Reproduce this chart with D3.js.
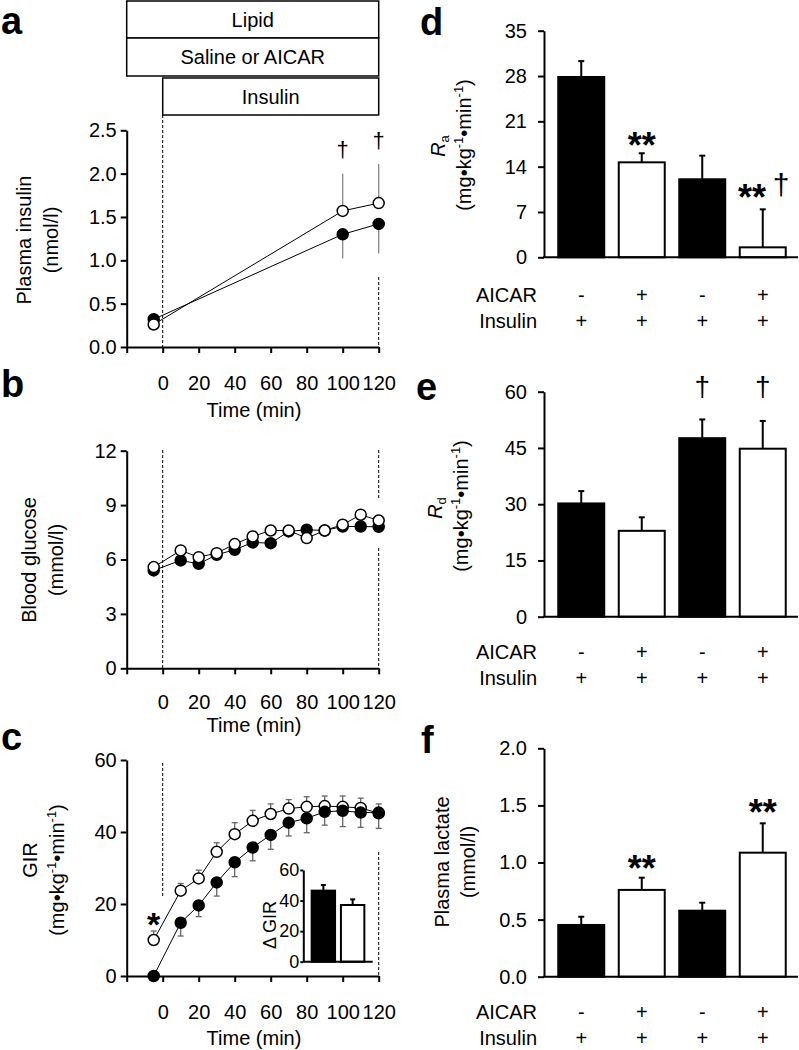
<!DOCTYPE html>
<html><head><meta charset="utf-8">
<script src="https://cdnjs.cloudflare.com/ajax/libs/d3/7.8.5/d3.min.js"></script>
<style>
body{margin:0;background:#fff;}
svg{display:block;font-family:"Liberation Sans",Arial,sans-serif;}
</style></head>
<body>
<svg id="fig" width="799" height="1050"></svg>
<script>
// ---------- DATA ----------
const timeA = [-5, 100, 120];
const insulinSaline = [0.32, 1.30, 1.42];
const insulinSalineSem = [0, 0.28, 0.34];
const insulinAicar = [0.26, 1.57, 1.66];
const insulinAicarSem = [0, 0.43, 0.45];
const insulinDaggers = [100, 120];

const timeBC = [-5, 10, 20, 30, 40, 50, 60, 70, 80, 90, 100, 110, 120];
const glucoseSaline = [5.4, 5.95, 5.76, 6.26, 6.54, 6.94, 6.9, 7.55, 7.64, 7.6, 7.82, 7.82, 7.8];
const glucoseAicar = [5.58, 6.5, 6.13, 6.35, 6.85, 7.27, 7.6, 7.6, 7.18, 7.6, 7.92, 8.47, 8.15];

const girSaline = [0, 14.8, 19.6, 26, 31.6, 35.7, 39.2, 42.6, 43.8, 45.6, 45.9, 45.4, 45.4];
const girSalineSem = [0, 3.7, 3.1, 3.8, 4.0, 3.7, 4.0, 3.7, 4.0, 3.7, 4.4, 4.1, 4.4];
const girAicar = [10.0, 23.7, 27.1, 34.5, 39.4, 43.1, 45, 46.5, 47, 47.2, 47, 46.7, 45.2];
const girAicarSem = [2.5, 2.0, 2.3, 2.5, 3.2, 2.9, 2.8, 2.5, 2.8, 2.8, 3.0, 2.7, 2.6];

const deltaGirGroups = ["Saline", "AICAR"];
const deltaGir = [46.5, 37.1];
const deltaGirSem = [3.7, 3.7];

const barGroups = ["g1", "g2", "g3", "g4"];
const barFills = ["#000", "#fff", "#000", "#fff"];
const aicarRow = ["-", "+", "-", "+"];
const insulinRow = ["+", "+", "+", "+"];
const ra = [27.85, 14.67, 12.05, 1.54];
const raSem = [2.45, 1.4, 3.65, 5.87];
const rd = [30.2, 22.9, 47.6, 44.8];
const rdSem = [3.3, 3.6, 5.0, 7.4];
const lactate = [0.453, 0.76, 0.578, 1.086];
const lactateSem = [0.072, 0.107, 0.07, 0.257];

const timeTicks = [-20, 0, 20, 40, 60, 80, 100, 120];

// ---------- HELPERS ----------
const svg = d3.select("#fig");
const FS = 20;

function styleAxis(g, fs) {
  g.attr("font-size", fs || FS);
  g.select(".domain").attr("stroke", "#000").attr("stroke-width", 2);
  g.selectAll(".tick line").attr("stroke", "#000").attr("stroke-width", 2);
  g.selectAll(".tick text").attr("fill", "#000").attr("font-size", fs || FS)
    .attr("font-family", "Liberation Sans, Arial, sans-serif");
}

function panelLabel(t, x, y) {
  svg.append("text").attr("x", x).attr("y", y).attr("font-size", 38)
    .attr("font-weight", "bold").text(t);
}

function rotLabel(x, y, build, fs) {
  const t = svg.append("text").attr("transform", `translate(${x},${y}) rotate(-90)`)
    .attr("text-anchor", "middle").attr("font-size", fs || FS);
  build(t);
  return t;
}

function unitsLabel(t) {
  t.append("tspan").text("(mg•kg");
  t.append("tspan").attr("font-size", 13).attr("dy", -8).text("-1");
  t.append("tspan").attr("dy", 8).text("•min");
  t.append("tspan").attr("font-size", 13).attr("dy", -8).text("-1");
  t.append("tspan").attr("dy", 8).text(")");
}

function dashed(x, y1, y2) {
  svg.append("line").attr("x1", x).attr("x2", x).attr("y1", y1).attr("y2", y2)
    .attr("stroke", "#000").attr("stroke-width", 1).attr("stroke-dasharray", "3,2");
}

function dagger(x, cy, fs) {
  svg.append("text").attr("x", x).attr("y", cy + fs * 0.29).attr("text-anchor", "middle")
    .attr("font-size", fs).attr("fill", "#000").text("†");
}
function stars(x, cy, s, fs) {
  svg.append("text").attr("x", x).attr("y", cy + fs * 0.57).attr("text-anchor", "middle")
    .attr("font-size", fs).attr("font-weight", "bold").text(s);
}

function timeXAxis(y0, x, padOffset, titleOffset) {
  const g = svg.append("g").attr("transform", `translate(0,${y0})`)
    .call(d3.axisBottom(x).tickValues(timeTicks).tickSize(6).tickSizeOuter(0).tickPadding(padOffset)
      .tickFormat(d => d < 0 ? "" : d));
  styleAxis(g);
  svg.append("text").attr("x", 254).attr("y", y0 + titleOffset).attr("text-anchor", "middle")
    .attr("font-size", FS).text("Time (min)");
}

function lineSeries(x, y, times, vals, sems, dir, errColor, cap) {
  const pts = times.map((t, i) => ({ t, v: vals[i], s: sems ? sems[i] : 0 }));
  const eb = svg.append("g");
  pts.filter(p => p.s > 0).forEach(p => {
    const ye = y(p.v + dir * p.s);
    eb.append("line").attr("x1", x(p.t)).attr("x2", x(p.t)).attr("y1", y(p.v)).attr("y2", ye)
      .attr("stroke", errColor).attr("stroke-width", 1.3);
    if (cap) eb.append("line").attr("x1", x(p.t) - cap).attr("x2", x(p.t) + cap).attr("y1", ye).attr("y2", ye)
      .attr("stroke", errColor).attr("stroke-width", 1.3);
  });
  svg.append("path").datum(pts).attr("fill", "none").attr("stroke", "#000").attr("stroke-width", 1)
    .attr("d", d3.line().x(p => x(p.t)).y(p => y(p.v)));
  return pts;
}
function dots(x, y, pts, filled, r) {
  svg.append("g").selectAll("circle").data(pts).join("circle")
    .attr("cx", p => x(p.t)).attr("cy", p => y(p.v)).attr("r", r)
    .attr("fill", filled ? "#000" : "#fff").attr("stroke", "#000").attr("stroke-width", 1.5);
}

// ---------- PANEL A ----------
const xT = d3.scaleLinear().domain([-20, 120]).range([126.7, 378.7]);
function box(x1, x2, y1, y2, label) {
  svg.append("rect").attr("x", x1).attr("y", y1).attr("width", x2 - x1).attr("height", y2 - y1)
    .attr("fill", "#fff").attr("stroke", "#000").attr("stroke-width", 1.5);
  svg.append("text").attr("x", (x1 + x2) / 2).attr("y", (y1 + y2) / 2 + 7).attr("text-anchor", "middle")
    .attr("font-size", FS).text(label);
}
box(xT(-20), xT(120), 1, 38, "Lipid");
box(xT(-20), xT(120), 38, 76, "Saline or AICAR");
box(xT(0), xT(120), 78, 115, "Insulin");
panelLabel("a", 1, 34);

const yA = d3.scaleLinear().domain([0, 2.5]).range([347, 130.3]);
dashed(xT(0), 115, 347);
dashed(xT(120), 277, 347);
const gyA = svg.append("g").attr("transform", `translate(${xT(-20)},0)`)
  .call(d3.axisLeft(yA).tickValues([0, 0.5, 1, 1.5, 2, 2.5]).tickFormat(d3.format(".1f")).tickSize(6).tickSizeOuter(0).tickPadding(4));
styleAxis(gyA);
timeXAxis(347, xT, 23, 70);
rotLabel(31, 240, t => t.text("Plasma insulin"));
rotLabel(58, 240, t => t.text("(nmol/l)"));
const pAs = lineSeries(xT, yA, timeA, insulinSaline, insulinSalineSem, -1, "#888", 0);
const pAa = lineSeries(xT, yA, timeA, insulinAicar, insulinAicarSem, 1, "#888", 0);
dots(xT, yA, pAs, true, 5.5);
dots(xT, yA, pAa, false, 5.5);
insulinDaggers.forEach((t, i) => dagger(xT(t), i === 0 ? 151 : 142, 22));

// ---------- PANEL B ----------
panelLabel("b", 1, 397);
const yB = d3.scaleLinear().domain([0, 12]).range([668.3, 450.7]);
dashed(xT(0), 450, 668);
dashed(xT(120), 450, 498);
dashed(xT(120), 548, 668);
const gyB = svg.append("g").attr("transform", `translate(${xT(-20)},0)`)
  .call(d3.axisLeft(yB).tickValues([0, 3, 6, 9, 12]).tickSize(6).tickSizeOuter(0).tickPadding(4));
styleAxis(gyB);
timeXAxis(668.3, xT, 21, 64);
rotLabel(36, 560, t => t.text("Blood glucose"));
rotLabel(63, 560, t => t.text("(mmol/l)"));
const pBs = lineSeries(xT, yB, timeBC, glucoseSaline, null, -1, "#888", 0);
const pBa = lineSeries(xT, yB, timeBC, glucoseAicar, null, 1, "#888", 0);
dots(xT, yB, pBs, true, 5.5);
dots(xT, yB, pBa, false, 5.5);

// ---------- PANEL C ----------
panelLabel("c", 1, 750);
const yC = d3.scaleLinear().domain([0, 60]).range([976, 760]);
dashed(xT(0), 763, 896);
dashed(xT(120), 852, 976);
const gyC = svg.append("g").attr("transform", `translate(${xT(-20)},0)`)
  .call(d3.axisLeft(yC).tickValues([0, 20, 40, 60]).tickSize(6).tickSizeOuter(0).tickPadding(4));
styleAxis(gyC);
timeXAxis(976, xT, 23, 69);
rotLabel(37, 860, t => t.text("GIR"));
rotLabel(64, 870, unitsLabel);
const pCa = lineSeries(xT, yC, timeBC, girAicar, girAicarSem, 1, "#666", 3);
const pCs = lineSeries(xT, yC, timeBC, girSaline, girSalineSem, -1, "#666", 3);
dots(xT, yC, pCa, false, 5.5);
dots(xT, yC, pCs, true, 5.5);
stars(xT(-5), 917, "*", 34);

// inset
const xI = d3.scaleBand().domain(deltaGirGroups).range([303.3, 372.7]).paddingInner(0.2).paddingOuter(0.285);
const yI = d3.scaleLinear().domain([0, 60]).range([961.7, 870]);
deltaGirGroups.forEach((g, i) => {
  const cx = xI(g) + xI.bandwidth() / 2;
  svg.append("line").attr("x1", cx).attr("x2", cx).attr("y1", yI(deltaGir[i])).attr("y2", yI(deltaGir[i] + deltaGirSem[i]))
    .attr("stroke", "#000").attr("stroke-width", 2);
  svg.append("line").attr("x1", cx - 2.5).attr("x2", cx + 2.5).attr("y1", yI(deltaGir[i] + deltaGirSem[i])).attr("y2", yI(deltaGir[i] + deltaGirSem[i]))
    .attr("stroke", "#000").attr("stroke-width", 2);
});
svg.append("g").selectAll("rect").data(deltaGir).join("rect")
  .attr("x", (d, i) => xI(deltaGirGroups[i])).attr("width", xI.bandwidth())
  .attr("y", d => yI(d)).attr("height", d => yI(0) - yI(d))
  .attr("fill", (d, i) => i === 0 ? "#000" : "#fff").attr("stroke", "#000").attr("stroke-width", 2);
const gyI = svg.append("g").attr("transform", "translate(303.3,0)")
  .call(d3.axisLeft(yI).tickValues([0, 20, 40, 60]).tickSize(3).tickSizeOuter(0).tickPadding(1));
styleAxis(gyI, 18);
svg.append("line").attr("x1", 303.3).attr("x2", 372.7).attr("y1", yI(0)).attr("y2", yI(0))
  .attr("stroke", "#000").attr("stroke-width", 2);
svg.append("text").attr("transform", "translate(275.5,925) rotate(-90)").attr("text-anchor", "middle")
  .attr("font-size", 18).text("Δ GIR");

// ---------- BAR PANELS ----------
function barPanel(opts) {
  const { y0, yTop, domainMax, ticks, fmt, vals, sems, rowY, labelPos, label, ylab } = opts;
  const x = d3.scaleBand().domain(barGroups).range([551, 793]).paddingInner(0.24).paddingOuter(0.12);
  const y = d3.scaleLinear().domain([0, domainMax]).range([y0, yTop]);
  barGroups.forEach((g, i) => {
    const cx = x(g) + x.bandwidth() / 2, ye = y(vals[i] + sems[i]);
    svg.append("line").attr("x1", cx).attr("x2", cx).attr("y1", y(vals[i])).attr("y2", ye)
      .attr("stroke", "#000").attr("stroke-width", 2);
    svg.append("line").attr("x1", cx - 3).attr("x2", cx + 3).attr("y1", ye).attr("y2", ye)
      .attr("stroke", "#000").attr("stroke-width", 2);
  });
  svg.append("g").selectAll("rect").data(vals).join("rect")
    .attr("x", (d, i) => x(barGroups[i])).attr("width", x.bandwidth())
    .attr("y", d => y(d)).attr("height", d => y(0) - y(d))
    .attr("fill", (d, i) => barFills[i]).attr("stroke", "#000").attr("stroke-width", 2);
  const gy = svg.append("g").attr("transform", "translate(544,0)")
    .call(d3.axisLeft(y).tickValues(ticks).tickFormat(fmt).tickSize(6).tickSizeOuter(0).tickPadding(11));
  styleAxis(gy);
  svg.append("line").attr("x1", 543).attr("x2", 798).attr("y1", y0).attr("y2", y0)
    .attr("stroke", "#000").attr("stroke-width", 2);
  svg.append("text").attr("x", 537).attr("y", rowY + 7).attr("text-anchor", "end").attr("font-size", FS).text("AICAR");
  svg.append("text").attr("x", 537).attr("y", rowY + 33).attr("text-anchor", "end").attr("font-size", FS).text("Insulin");
  barGroups.forEach((g, i) => {
    const cx = x(g) + x.bandwidth() / 2;
    svg.append("text").attr("x", cx).attr("y", rowY + 7).attr("text-anchor", "middle").attr("font-size", FS).text(aicarRow[i]);
    svg.append("text").attr("x", cx).attr("y", rowY + 33).attr("text-anchor", "middle").attr("font-size", FS).text(insulinRow[i]);
  });
  panelLabel(label, labelPos[0], labelPos[1]);
  ylab();
  return { x, y };
}

// D
const d = barPanel({ y0: 257.3, yTop: 30.7, domainMax: 35, ticks: [0, 7, 14, 21, 28, 35], fmt: d3.format("d"),
  vals: ra, sems: raSem, rowY: 295, labelPos: [420, 35], label: "d",
  ylab: () => {
    rotLabel(445, 146, t => {
      t.append("tspan").attr("font-style", "italic").text("R");
      t.append("tspan").attr("font-size", 13).attr("dy", 4).text("a");
    });
    rotLabel(471, 145, unitsLabel);
  } });
stars(d.x("g2") + d.x.bandwidth() / 2, 137, "**", 36);
stars(752, 189, "**", 36);
dagger(781, 186, 30);

// E
const e = barPanel({ y0: 616.7, yTop: 391.7, domainMax: 60, ticks: [0, 15, 30, 45, 60], fmt: d3.format("d"),
  vals: rd, sems: rdSem, rowY: 651.7, labelPos: [416, 400], label: "e",
  ylab: () => {
    rotLabel(442, 508, t => {
      t.append("tspan").attr("font-style", "italic").text("R");
      t.append("tspan").attr("font-size", 13).attr("dy", 4).text("d");
    });
    rotLabel(468, 506, unitsLabel);
  } });
dagger(e.x("g3") + e.x.bandwidth() / 2, 388, 28);
dagger(e.x("g4") + e.x.bandwidth() / 2, 388, 28);

// F
const f = barPanel({ y0: 976.7, yTop: 748.3, domainMax: 2.0, ticks: [0, 0.5, 1, 1.5, 2], fmt: d3.format(".1f"),
  vals: lactate, sems: lactateSem, rowY: 1011.7, labelPos: [421, 753], label: "f",
  ylab: () => {
    rotLabel(449, 862, t => t.text("Plasma lactate"));
    rotLabel(475, 862, t => t.text("(mmol/l)"));
  } });
stars(f.x("g2") + f.x.bandwidth() / 2, 860, "**", 36);
stars(f.x("g4") + f.x.bandwidth() / 2, 804, "**", 36);
</script>
</body></html>
